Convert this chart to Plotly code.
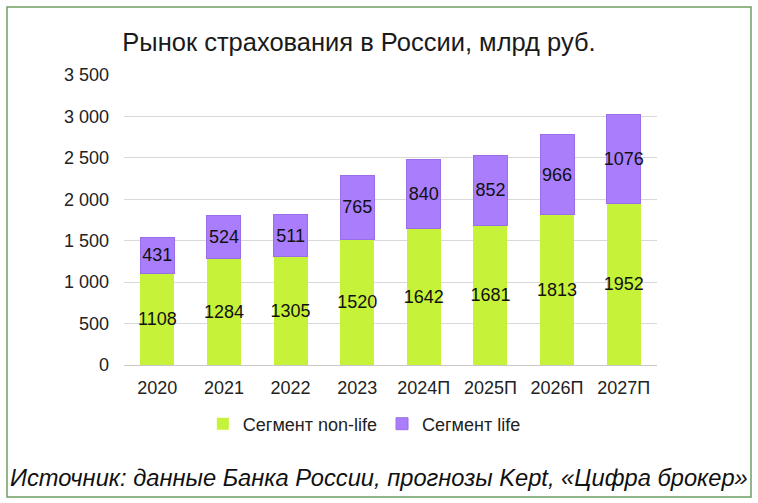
import plotly.graph_objects as go

categories = ["2020", "2021", "2022", "2023", "2024П", "2025П", "2026П", "2027П"]
non_life = [1108, 1284, 1305, 1520, 1642, 1681, 1813, 1952]
life = [431, 524, 511, 765, 840, 852, 966, 1076]
y_ticks = [0, 500, 1000, 1500, 2000, 2500, 3000, 3500]
y_tick_labels = ["0", "500", "1 000", "1 500", "2 000", "2 500", "3 000", "3 500"]

FONT = "Liberation Sans, Arial, sans-serif"

fig = go.Figure()
fig.add_trace(go.Bar(
    x=categories, y=non_life, name="Сегмент non-life",
    marker=dict(color="#c6f23a", line=dict(width=0)),
    text=[str(v) for v in non_life], textposition="inside", insidetextanchor="middle",
    textfont=dict(color="#111111", size=18, family=FONT), textangle=0,
    constraintext="none", cliponaxis=False,
))
fig.add_trace(go.Bar(
    x=categories, y=life, name="Сегмент life",
    marker=dict(color="#a97dfb", line=dict(width=1, color="#9a6ee6")),
    text=[str(v) for v in life], textposition="inside", insidetextanchor="middle",
    textfont=dict(color="#111111", size=18, family=FONT), textangle=0,
    constraintext="none", cliponaxis=False,
))

fig.update_layout(
    barmode="stack",
    bargap=0.49,
    width=758, height=503,
    margin=dict(l=124, r=101, t=75, b=138),
    paper_bgcolor="white", plot_bgcolor="white",
    font=dict(family=FONT, color="#222222", size=18),
    title=dict(text="Рынок страхования в России, млрд руб.", x=359/758, xanchor="center",
               y=1 - 42/503, yanchor="middle", font=dict(size=25.5, color="#1a1a1a", family=FONT)),
    showlegend=True,
    legend=dict(orientation="h", x=(367 - 124)/533 - 0.005, xanchor="center", y=-(424 - 365)/290,
                yanchor="middle", itemwidth=30,
                font=dict(size=18, color="#222222", family=FONT), traceorder="normal"),
)
fig.update_yaxes(range=[0, 3500], tickvals=y_ticks, ticktext=y_tick_labels,
                 showgrid=True, gridcolor="#d9d9d9", gridwidth=1,
                 zeroline=False, showline=False, ticks="", ticklen=0,
                 ticklabelstandoff=14,
                 tickfont=dict(size=18, color="#222222"))
fig.update_xaxes(showgrid=False, showline=True, linecolor="#c8c8c8", linewidth=1,
                 ticks="", ticklabelstandoff=6, tickfont=dict(size=18, color="#222222"))

fig.add_shape(type="rect", xref="paper", yref="paper",
              x0=(7 - 124)/533, x1=(751 - 124)/533,
              y0=-(497 - 365)/290, y1=(365 - 7)/290,
              line=dict(color="#6d9e63", width=1.5), fillcolor="rgba(0,0,0,0)", layer="below")

fig.add_annotation(text="<i>Источник: данные Банка России, прогнозы Kept, «Цифра брокер»</i>",
                   xref="paper", yref="paper", x=(379 - 124)/533, y=-(478 - 365)/290,
                   xanchor="center", yanchor="middle", showarrow=False,
                   font=dict(size=23.7, color="#111111", family=FONT))

fig.write_html("out.html", config={"displayModeBar": False},
               post_script="document.body.style.margin='0px';")
